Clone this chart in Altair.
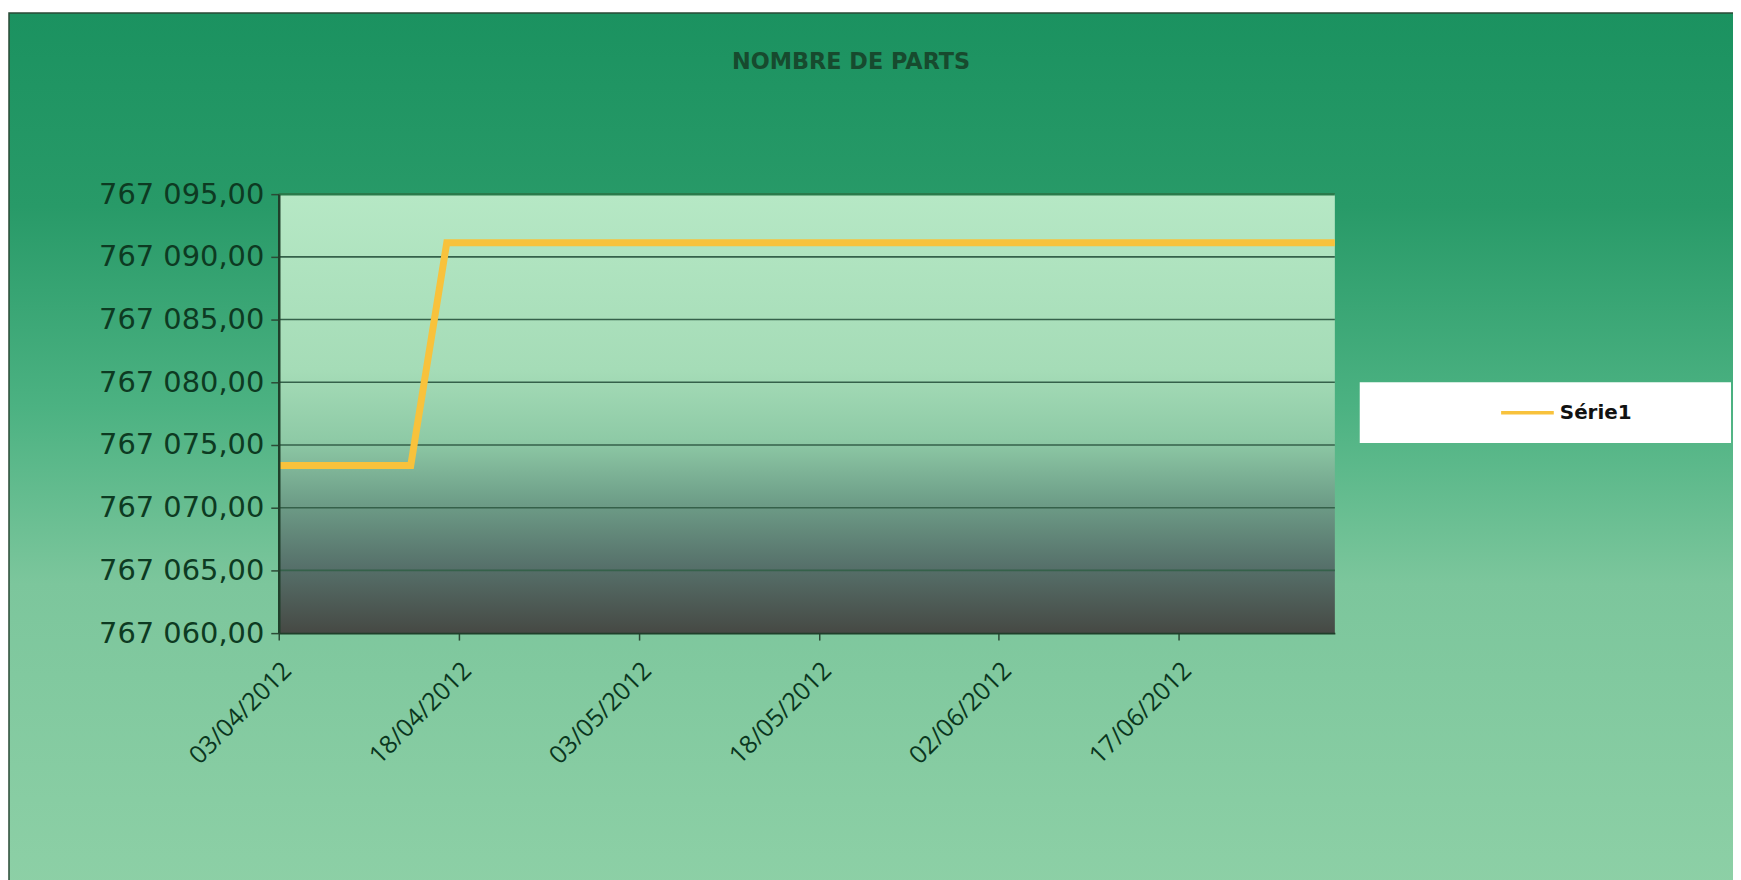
import altair as alt
import pandas as pd

# ---- data ----
dates = ["2012-04-03", "2012-04-14", "2012-04-17", "2012-06-30"]
parts = [767073.36, 767073.36, 767091.12, 767091.12]
series = ["Série1", "Série1", "Série1", "Série1"]

x_ticks = ["2012-04-03", "2012-04-18", "2012-05-03", "2012-05-18", "2012-06-02", "2012-06-17"]
x_domain = ["2012-04-03", "2012-06-30"]
y_ticks = [767060, 767065, 767070, 767075, 767080, 767085, 767090, 767095]
title_text = ["NOMBRE DE PARTS"]

W, H = 1061, 441
PAD = {"left": 272, "top": 185, "right": 400, "bottom": 246}


def dt(s):
    y, m, d = (int(p) for p in s.split("-"))
    return alt.DateTime(year=y, month=m, date=d, utc=True)


df = pd.DataFrame({"date": dates, "parts": parts, "serie": series})
grid_df = pd.DataFrame({"parts": [v for v in y_ticks if v not in (y_ticks[0], y_ticks[-1])]})
one = pd.DataFrame({"k": [0]})
title_df = pd.DataFrame({"t": title_text})

y_scale = alt.Scale(domain=[y_ticks[0], y_ticks[-1]], zero=False, nice=False)
x_scale = alt.Scale(type="utc", domain=[dt(d) for d in x_domain], nice=False)

y_axis = alt.Axis(
    title=None, values=y_ticks,
    labelExpr="replace(replace(format(datum.value, ',.2f'), ',', ' '), '.', ',')",
    labelFont="DejaVu Sans", labelFontSize=29, labelColor="#0d3a22",
    labelPadding=7, tickSize=8, tickColor="#2b4a36", tickWidth=1.5,
    domainColor="#1f3f2a", domainWidth=2.5, grid=False, zindex=1,
)

outer_bg = alt.Chart(one).mark_rect(
    color=alt.LinearGradient(
        gradient="linear", x1=0, y1=0, x2=0, y2=1,
        stops=[
            alt.GradientStop(offset=0, color="#1b9260"),
            alt.GradientStop(offset=0.22, color="#289a68"),
            alt.GradientStop(offset=0.45, color="#4cb282"),
            alt.GradientStop(offset=0.65, color="#7cc69c"),
            alt.GradientStop(offset=1, color="#8dd0a6"),
        ],
    ),
    stroke="#2a4a36", strokeWidth=1.5,
).encode(
    x=alt.value(-271), x2=alt.value(1480),
    y=alt.value(-182), y2=alt.value(700),
)

plot_bg = alt.Chart(one).mark_rect(
    color=alt.LinearGradient(
        gradient="linear", x1=0, y1=0, x2=0, y2=1,
        stops=[
            alt.GradientStop(offset=0, color="#b6e8c5"),
            alt.GradientStop(offset=0.40, color="#a5dcb7"),
            alt.GradientStop(offset=0.56, color="#8ecaa6"),
            alt.GradientStop(offset=0.70, color="#6e9e88"),
            alt.GradientStop(offset=0.85, color="#56706a"),
            alt.GradientStop(offset=1, color="#464944"),
        ],
    ),
).encode(x=alt.value(0), x2=alt.value(W), y=alt.value(0), y2=alt.value(H))

grid = alt.Chart(grid_df).mark_rule(color="#35614a", strokeWidth=1.6).encode(
    y=alt.Y("parts:Q", scale=y_scale, axis=y_axis),
    x=alt.value(0), x2=alt.value(W),
)

top_border = alt.Chart(one).mark_rule(color="#2a7a4b", strokeWidth=2.5).encode(
    x=alt.value(0), x2=alt.value(W), y=alt.value(0)
)

legend_box = alt.Chart(one).mark_rect(color="white").encode(
    x=alt.value(1086), x2=alt.value(1459), y=alt.value(189), y2=alt.value(250)
)

title = alt.Chart(title_df).mark_text(
    font="DejaVu Sans", fontSize=22.5, fontWeight="bold", color="#174a2e",
    align="center", baseline="middle",
).encode(text="t:N", x=alt.value(575), y=alt.value(-133))

line = alt.Chart(df).mark_line(strokeWidth=7, strokeJoin="miter").encode(
    x=alt.X(
        "date:T", scale=x_scale,
        axis=alt.Axis(
            title=None, values=[dt(d) for d in x_ticks],
            labelExpr="utcFormat(datum.value, '%d/%m/%Y')",
            labelAngle=315, labelAlign="right", labelBaseline="middle",
            labelFont="Open Sans", labelFontSize=25,
            labelColor="#0a361e",
            labelPadding=26, labelOffset=8,
            tickSize=7, tickColor="#2b4a36", tickWidth=1.5,
            domainColor="#1f3f2a", domainWidth=2, grid=False, labelOverlap=False,
            zindex=1,
        ),
    ),
    y=alt.Y("parts:Q", scale=y_scale, axis=y_axis),
    color=alt.Color(
        "serie:N",
        scale=alt.Scale(domain=["Série1"], range=["#f8c23c"]),
        legend=alt.Legend(
            title=None, orient="none", legendX=1226, legendY=191,
            symbolType="stroke", symbolSize=2800, symbolStrokeWidth=3.5,
            labelFont="DejaVu Sans", labelFontSize=20, labelFontWeight="bold",
            labelColor="#111111", labelOffset=4, padding=0,
        ),
    ),
)

chart = alt.layer(outer_bg, plot_bg, grid, top_border, legend_box, title, line).properties(
    width=W, height=H,
    padding=PAD,
    autosize=alt.AutoSizeParams(type="none"),
    background="white",
).configure_view(stroke=None)

chart.save("out.html", embed_options={"renderer": "svg", "actions": False})
